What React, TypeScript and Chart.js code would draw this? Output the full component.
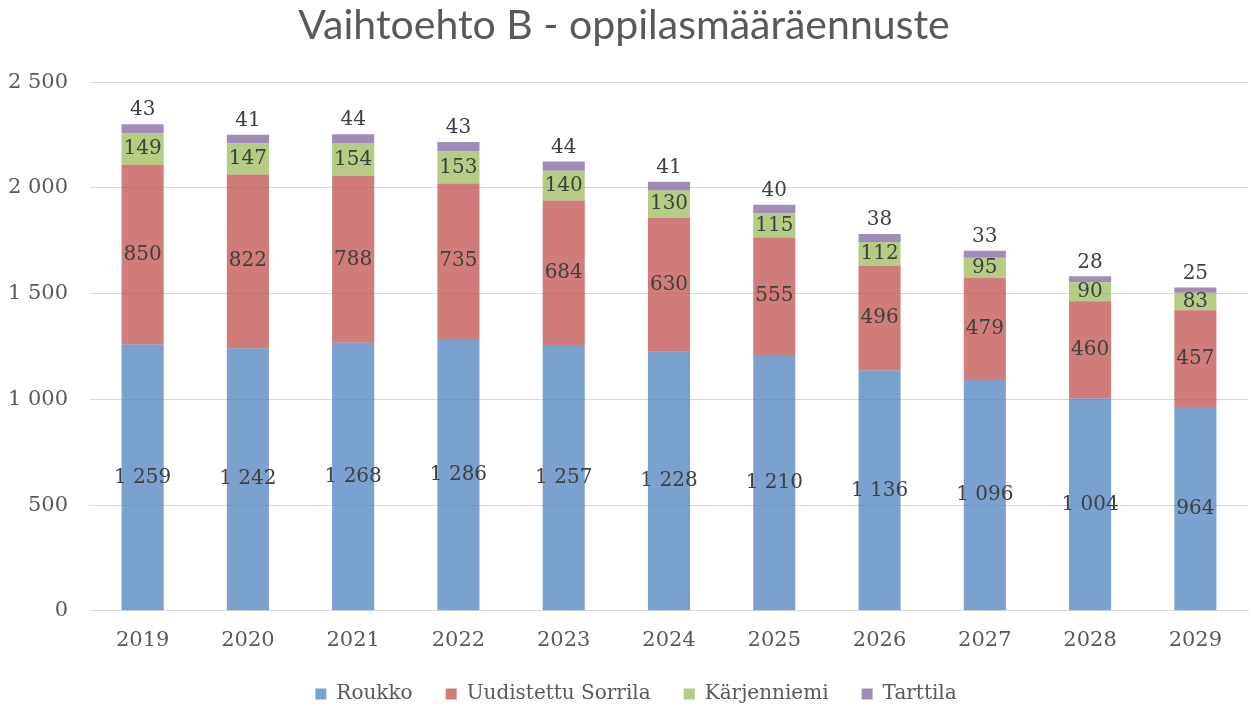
import React, { useEffect, useRef } from "react";
import { Chart, registerables } from "chart.js";

Chart.register(...registerables);

const years = ["2019", "2020", "2021", "2022", "2023", "2024", "2025", "2026", "2027", "2028", "2029"];
const roukko = [1259, 1242, 1268, 1286, 1257, 1228, 1210, 1136, 1096, 1004, 964];
const sorrila = [850, 822, 788, 735, 684, 630, 555, 496, 479, 460, 457];
const karjenniemi = [149, 147, 154, 153, 140, 130, 115, 112, 95, 90, 83];
const tarttila = [43, 41, 44, 43, 44, 41, 40, 38, 33, 28, 25];

const fmt = (v: number) => {
  const s = String(Math.round(v));
  return s.replace(/\B(?=(\d{3})+(?!\d))/g, " ");
};

const SERIF = "'DejaVu Serif', serif";

const labelPlugin = {
  id: "barLabels",
  afterLayout(chart: any) {
    const lg = chart.legend;
    if (lg) {
      lg.left += 12;
      lg.right += 12;
    }
  },
  afterDatasetsDraw(chart: any) {
    const ctx = chart.ctx;
    ctx.save();
    ctx.font = `20px ${SERIF}`;
    ctx.fillStyle = "#404040";
    ctx.textAlign = "center";
    chart.data.datasets.forEach((ds: any, di: number) => {
      const meta = chart.getDatasetMeta(di);
      meta.data.forEach((bar: any, i: number) => {
        const v = ds.data[i];
        const txt = fmt(v);
        if (di === 3) {
          ctx.textBaseline = "bottom";
          ctx.fillText(txt, bar.x, bar.y - 4);
        } else {
          ctx.textBaseline = "middle";
          ctx.fillText(txt, bar.x, (bar.y + bar.base) / 2);
        }
      });
    });
    ctx.restore();
  },
};

export default function App() {
  const ref = useRef<HTMLCanvasElement>(null);
  useEffect(() => {
    if (!ref.current) return;
    const mk = (label: string, data: number[], color: string) => ({
      label,
      data,
      backgroundColor: color,
      borderWidth: 0,
      barPercentage: 0.4,
      categoryPercentage: 1,
    });
    const chart = new Chart(ref.current, {
      type: "bar",
      data: {
        labels: years,
        datasets: [
          mk("Roukko", roukko, "rgba(79,129,189,0.75)"),
          mk("Uudistettu Sorrila", sorrila, "rgba(192,80,77,0.75)"),
          mk("Kärjenniemi", karjenniemi, "rgba(155,187,89,0.75)"),
          mk("Tarttila", tarttila, "rgba(128,100,162,0.75)"),
        ],
      },
      plugins: [labelPlugin],
      options: {
        animation: false,
        responsive: false,
        maintainAspectRatio: false,
        layout: { padding: { left: 0, right: 5, top: 0, bottom: -8 } },
        plugins: {
          title: {
            display: true,
            text: "Vaihtoehto B - oppilasmääräennuste",
            color: "#595959",
            font: { family: "Lato, 'Open Sans', sans-serif", size: 41, weight: "normal" },
            padding: { top: 1, bottom: 32 },
          },
          legend: {
            position: "bottom",
            labels: {
              color: "#595959",
              font: { family: SERIF, size: 20 },
              boxWidth: 11,
              boxHeight: 11,
              padding: 14,
              generateLabels: (chart: any) => {
                const items = Chart.defaults.plugins.legend.labels.generateLabels(chart);
                const n = items.length;
                return items.map((it: any, i: number) => ({
                  ...it,
                  text: i < n - 1 ? it.text + "   " : it.text,
                }));
              },
            },
          },
          tooltip: { enabled: false },
        },
        scales: {
          x: {
            stacked: true,
            grid: { display: false, drawTicks: false },
            border: { display: true, color: "#d9d9d9", width: 1 },
            ticks: { color: "#595959", font: { family: SERIF, size: 21 }, padding: 17 },
          },
          y: {
            stacked: true,
            min: 0,
            max: 2500,
            grid: { color: "#d9d9d9", drawTicks: false },
            border: { display: false },
            ticks: {
              stepSize: 500,
              color: "#595959",
              font: { family: SERIF, size: 21 },
              padding: 22,
              callback: (v: any) => fmt(Number(v)),
            },
            afterFit: (scale: any) => {
              scale.width = 90;
            },
          },
        },
      },
    } as any);
    return () => chart.destroy();
  }, []);
  return (
    <div style={{ position: "absolute", left: 0, top: 0, width: 1253, height: 706, background: "#fff" }}>
      <canvas ref={ref} width={1253} height={706} />
    </div>
  );
}
